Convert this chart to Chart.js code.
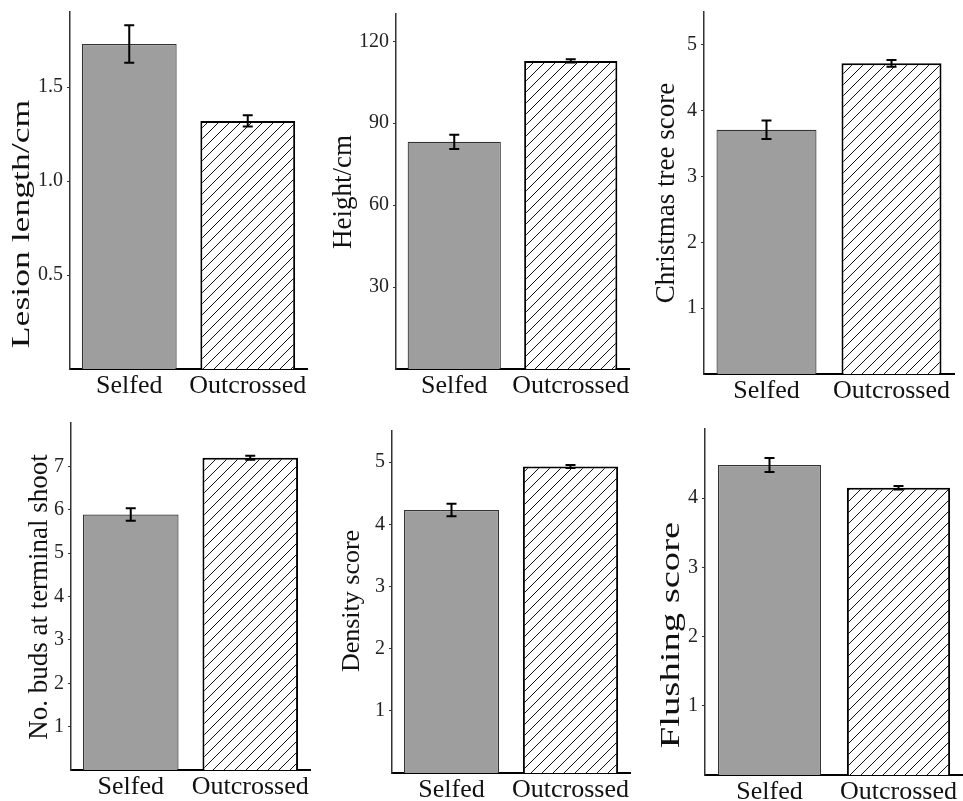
<!DOCTYPE html>
<html>
<head>
<meta charset="utf-8">
<script src="https://cdn.jsdelivr.net/npm/chart.js@4.4.1/dist/chart.umd.min.js"></script>
<style>
  body { margin: 0; background: #fff; }
  #wrap { position: relative; width: 963px; height: 801px; }
  #wrap canvas { position: absolute; }
</style>
</head>
<body>
<div id="wrap"></div>
<script>
// categories
var groups = ['Selfed', 'Outcrossed'];

// y axis titles, one per panel
var titles = ['Lesion length/cm', 'Height/cm', 'Christmas tree score',
              'No. buds at terminal shoot', 'Density score', 'Flushing score'];

// means
var lesion   = [1.73, 1.32];
var height   = [83.2, 112.8];
var xmasTree = [3.71, 4.72];
var buds     = [5.89, 7.20];
var density  = [4.23, 4.93];
var flushing = [4.48, 4.15];

// standard errors (half whisker length)
var lesionErr   = [0.10, 0.03];
var heightErr   = [2.6, 0.6];
var xmasTreeErr = [0.14, 0.05];
var budsErr     = [0.145, 0.045];
var densityErr  = [0.10, 0.025];
var flushingErr = [0.10, 0.025];

// tick labels and top of each y axis
var lesionTicks   = [0.5, 1.0, 1.5];
var heightTicks   = [30, 60, 90, 120];
var xmasTreeTicks = [1, 2, 3, 4, 5];
var budsTicks     = [1, 2, 3, 4, 5, 6, 7];
var densityTicks  = [1, 2, 3, 4, 5];
var flushingTicks = [1, 2, 3, 4];
var yTops = [1.9, 130, 5.5, 8, 5.5, 5];

// where each panel sits on the page: canvas box, plot area,
// y title size / centre / stretch along the text
var layout = [
  { x: 0,   y: 0,   w: 321, h: 400, l: 70,  t: 12,  r: 307, b: 369, ts: 26, tx: 22,  ty: 224, sx: 1.37 },
  { x: 321, y: 0,   w: 321, h: 400, l: 396, t: 14,  r: 629, b: 369, ts: 27, tx: 344, ty: 192, sx: 1 },
  { x: 642, y: 0,   w: 321, h: 400, l: 704, t: 12,  r: 954, b: 374, ts: 27, tx: 667, ty: 193, sx: 1 },
  { x: 0,   y: 400, w: 321, h: 401, l: 71,  t: 423, r: 310, b: 770, ts: 27, tx: 40,  ty: 597, sx: 1 },
  { x: 321, y: 400, w: 321, h: 401, l: 392, t: 431, r: 630, b: 773, ts: 26, tx: 352, ty: 601, sx: 1 },
  { x: 642, y: 400, w: 321, h: 401, l: 705, t: 429, r: 963, b: 775, ts: 27, tx: 672, ty: 635, sx: 1.43 }
];

var panels = [
  [lesion, lesionErr, lesionTicks, 1],
  [height, heightErr, heightTicks, 0],
  [xmasTree, xmasTreeErr, xmasTreeTicks, 0],
  [buds, budsErr, budsTicks, 0],
  [density, densityErr, densityTicks, 0],
  [flushing, flushingErr, flushingTicks, 0]
];

var fontFamily = '"Liberation Serif", "Times New Roman", serif';

function hatch() {
  var c = document.createElement('canvas');
  var s = 11;
  c.width = s; c.height = s;
  var g = c.getContext('2d');
  g.fillStyle = '#fff';
  g.fillRect(0, 0, s, s);
  g.strokeStyle = '#111';
  g.lineWidth = 1;
  g.beginPath();
  g.moveTo(-1, s + 1); g.lineTo(s + 1, -1);
  g.moveTo(-2, 2); g.lineTo(2, -2);
  g.moveTo(s - 2, s + 2); g.lineTo(s + 2, s - 2);
  g.stroke();
  return g.createPattern(c, 'repeat');
}

var errorBars = {
  id: 'errorBars',
  afterDatasetsDraw: function (chart) {
    var ctx = chart.ctx;
    var y = chart.scales.y;
    var ds = chart.data.datasets[0];
    ctx.save();
    ctx.strokeStyle = '#000';
    ctx.lineWidth = 2;
    chart.getDatasetMeta(0).data.forEach(function (bar, i) {
      var top = y.getPixelForValue(ds.data[i] + ds.errors[i]);
      var bot = y.getPixelForValue(ds.data[i] - ds.errors[i]);
      ctx.beginPath();
      ctx.moveTo(bar.x, top); ctx.lineTo(bar.x, bot);
      ctx.moveTo(bar.x - 5, top); ctx.lineTo(bar.x + 5, top);
      ctx.moveTo(bar.x - 5, bot); ctx.lineTo(bar.x + 5, bot);
      ctx.stroke();
    });
    ctx.restore();
  }
};

// y title, drawn rotated; some panels have it stretched along its length
var axisTitle = {
  id: 'axisTitle',
  afterDraw: function (chart, args, o) {
    var ctx = chart.ctx;
    ctx.save();
    ctx.translate(o.x, o.y);
    ctx.rotate(-Math.PI / 2);
    ctx.scale(o.stretch, 1);
    ctx.font = o.size + 'px ' + fontFamily;
    ctx.fillStyle = '#111';
    ctx.textAlign = 'center';
    ctx.textBaseline = 'middle';
    ctx.fillText(o.text, 0, 0);
    ctx.restore();
  }
};

Chart.defaults.font.family = fontFamily;
Chart.defaults.color = '#111';

var wrap = document.getElementById('wrap');

panels.forEach(function (p, k) {
  var L = layout[k];
  var cv = document.createElement('canvas');
  cv.width = L.w; cv.height = L.h;
  cv.style.left = L.x + 'px'; cv.style.top = L.y + 'px';
  wrap.appendChild(cv);

  var ctx = cv.getContext('2d');
  var decimals = p[3];
  var tickVals = p[2];

  new Chart(ctx, {
    type: 'bar',
    data: {
      labels: groups,
      datasets: [{
        data: p[0],
        errors: p[1],
        backgroundColor: ['#9d9e9d', hatch()],
        borderColor: ['#333', '#000'],
        borderWidth: [1.2, 2],
        categoryPercentage: 0.8,
        barPercentage: 1
      }]
    },
    options: {
      responsive: false,
      animation: false,
      layout: { padding: { top: L.t - L.y, right: L.x + L.w - L.r, left: 0, bottom: 0 } },
      plugins: {
        legend: { display: false },
        tooltip: { enabled: false },
        axisTitle: { text: titles[k], x: L.tx - L.x, y: L.ty - L.y, size: L.ts, stretch: L.sx }
      },
      scales: {
        x: {
          grid: { display: false, drawTicks: false },
          border: { display: true, color: '#000', width: 2 },
          ticks: { font: { size: 26 }, padding: 2, color: '#111', maxRotation: 0, autoSkip: false },
          afterFit: function (s) {
            s.height = L.y + L.h - L.b;
            s.paddingLeft = 0; s.paddingRight = 0;
          }
        },
        y: {
          min: 0,
          max: yTops[k],
          grid: { display: true, drawOnChartArea: false, drawTicks: true, tickLength: 3, tickColor: '#333' },
          border: { display: true, color: '#333', width: 1.5 },
          ticks: {
            font: { size: 20 },
            padding: 4,
            color: '#222',
            callback: function (v) { return decimals ? Number(v).toFixed(decimals) : String(v); }
          },
          afterBuildTicks: function (s) {
            s.ticks = tickVals.map(function (v) { return { value: v }; });
          },
          title: { display: false, text: titles[k] },
          afterFit: function (s) {
            s.width = L.l - L.x;
            s.paddingTop = 0; s.paddingBottom = 0;
          }
        }
      }
    },
    plugins: [errorBars, axisTitle]
  });
});
</script>
</body>
</html>
